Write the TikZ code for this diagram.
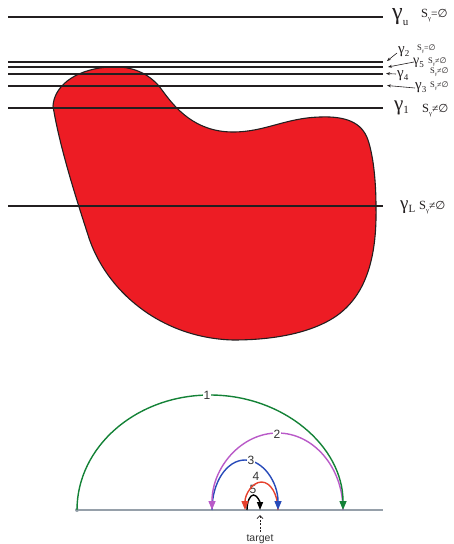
\documentclass[tikz,border=0pt]{standalone}
\usepackage{fontspec}
\setmainfont{Liberation Serif}
\newfontfamily\dvs{DejaVu Sans}
\newfontfamily\lsans{Liberation Sans}
\usetikzlibrary{arrows.meta}
\definecolor{ink}{RGB}{35,31,32}
\definecolor{blobred}{RGB}{237,28,36}
\definecolor{arcgreen}{RGB}{20,130,55}
\definecolor{arcpurple}{RGB}{185,90,200}
\definecolor{arcblue}{RGB}{40,75,185}
\definecolor{arcred}{RGB}{230,65,45}
\definecolor{axisgray}{RGB}{150,160,170}
\newcommand{\es}{{\dvs ∅}}
\newcommand{\bigS}[1]{{\fontsize{12.5}{12.5}\selectfont S}\raisebox{-3pt}{\fontsize{6.5}{6.5}\selectfont γ}{\fontsize{11.5}{11.5}\selectfont #1\es}}
\newcommand{\smallS}[1]{{\fontsize{8.5}{8.5}\selectfont S}\raisebox{-2pt}{\fontsize{5}{5}\selectfont γ}{\fontsize{8}{8}\selectfont #1\es}}
\begin{document}
\begin{tikzpicture}[x=1pt,y=-1pt,
 level/.style={line width=2pt, draw=ink},
 blob/.style={fill=blobred, draw=ink, line width=1.1pt},
 ptr/.style={draw=ink, line width=0.6pt, -{Stealth[length=4pt,width=3pt]}},
 lbl/.style={anchor=base west, inner sep=0pt, text=ink},
 arcline/.style={line width=1.4pt},
 tipA/.style={-{Triangle[length=9pt,width=7pt]}},
 tipB/.style={-{Triangle[length=8pt,width=6pt]}},
 num/.style={font=\lsans\fontsize{12}{12}\selectfont, text=black!80, fill=white, inner sep=0.4pt},
]
\useasboundingbox (0,0) rectangle (453,544);

% blob
\draw[blob] (53,106) .. controls (54,88) and (72,70) .. (108,67)
  .. controls (135,65) and (152,76) .. (162,90)
  .. controls (175,108) and (195,132) .. (233,132)
  .. controls (265,132) and (285,118) .. (320,117)
  .. controls (345,116) and (362,122) .. (368,140)
  .. controls (374,158) and (376,185) .. (376,207)
  .. controls (377,260) and (365,300) .. (330,320)
  .. controls (300,337) and (260,340) .. (233,340)
  .. controls (160,338) and (105,290) .. (88,235)
  .. controls (80,210) and (60,150) .. (53,106) -- cycle;

% level lines
\coordinate (uL) at (8,17);    \coordinate (uR) at (383,17);
\coordinate (l2L) at (8,62); \coordinate (l2R) at (383,62);
\coordinate (l5L) at (8,66.5); \coordinate (l5R) at (383,66.5);
\coordinate (l4L) at (8,73.5); \coordinate (l4R) at (383,73.5);
\coordinate (l3L) at (8,85.5); \coordinate (l3R) at (383,85.5);
\coordinate (l1L) at (8,108);  \coordinate (l1R) at (383,108);
\coordinate (lLL) at (8,206);  \coordinate (lLR) at (383,206);
\foreach \n in {u,l2,l5,l4,l3,l1,lL} \draw[level] (\n L) -- (\n R);

% big labels
\node[lbl] (gu) at (392,19) {{\fontsize{24}{24}\selectfont γ}\raisebox{-6pt}{\fontsize{11}{11}\selectfont u}};
\node[lbl] (su) at (421,17) {\bigS{=}};
\node[lbl] (g1) at (394,110) {{\fontsize{21}{21}\selectfont γ}\raisebox{-3pt}{\fontsize{11}{11}\selectfont 1}};
\node[lbl] (s1) at (422,112) {\bigS{≠}};
\node[lbl] (gL) at (400,209) {{\fontsize{19}{19}\selectfont γ}\raisebox{-3pt}{\fontsize{11}{11}\selectfont L}};
\node[lbl] (sL) at (419,209) {\bigS{≠}};

% small labels
\node[lbl] (g2) at (398,53) {{\fontsize{15}{15}\selectfont γ}\raisebox{-3pt}{\fontsize{9}{9}\selectfont 2}};
\node[lbl] (s2) at (417,50.5) {\smallS{=}};
\node[lbl] (g5) at (413,64) {{\fontsize{14}{14}\selectfont γ}\raisebox{-3pt}{\fontsize{9}{9}\selectfont 5}};
\node[lbl] (s5) at (428,63) {\smallS{≠}};
\node[lbl] (g4) at (397,77) {{\fontsize{15}{15}\selectfont γ}\raisebox{-3pt}{\fontsize{9}{9}\selectfont 4}};
\node[lbl] (s4) at (430,73) {\smallS{≠}};
\node[lbl] (g3) at (415,89) {{\fontsize{15}{15}\selectfont γ}\raisebox{-3pt}{\fontsize{9}{9}\selectfont 3}};
\node[lbl] (s3) at (430,87) {\smallS{≠}};

% pointers
\coordinate (p2s) at (397,53); \coordinate (p2e) at (387,61);
\coordinate (p5s) at (414,62); \coordinate (p5e) at (388,67);
\coordinate (p4s) at (396,74); \coordinate (p4e) at (386,73.5);
\coordinate (p3s) at (415,88); \coordinate (p3e) at (387,85.5);
\draw[ptr] (p2s) -- (p2e);
\draw[ptr] (p5s) -- (p5e);
\draw[ptr] (p4s) -- (p4e);
\draw[ptr] (p3s) -- (p3e);

% bottom diagram
\coordinate (b0) at (77,510);
\coordinate (bend) at (383,510);
\coordinate (b1) at (343,510);
\coordinate (b2) at (212,510);
\coordinate (b3) at (278,510);
\coordinate (b4) at (245,510);
\coordinate (b5s) at (247,510);
\draw[axisgray, line width=1.2pt] (b0) -- (bend);
\fill[axisgray] (b0) circle (2);

\draw[arcline, black, tipB] (b5s) arc[start angle=180, end angle=360, x radius=6.5, y radius=15];
\node[num] (n5) at (253,489) {5};
\draw[arcline, arcred, tipA] (b3) arc[start angle=0, end angle=-180, x radius=16.5, y radius=28];
\node[num] (n4) at (256,476) {4};
\draw[arcline, arcblue, tipA] (b2) arc[start angle=180, end angle=360, x radius=33, y radius=50];
\node[num] (n3) at (251,460) {3};
\draw[arcline, arcpurple, tipA] (b1) arc[start angle=0, end angle=-180, x radius=65.5, y radius=77];
\node[num] (n2) at (277,434) {2};
\draw[arcline, arcgreen, tipA] (b0) arc[start angle=180, end angle=360, x radius=133, y radius=115];
\node[num] (n1) at (207,395) {1};

% target
\coordinate (tg0) at (260,532);
\coordinate (tg1) at (260,515);
\draw[ink, line width=0.8pt, dash pattern=on 2pt off 1.5pt, -{Straight Barb[length=3pt,width=6pt]}] (tg0) -- (tg1);
\node[font=\lsans\fontsize{10.5}{10.5}\selectfont, text=black!80, inner sep=0pt] (tgt) at (260,539) {target};
\end{tikzpicture}
\end{document}
